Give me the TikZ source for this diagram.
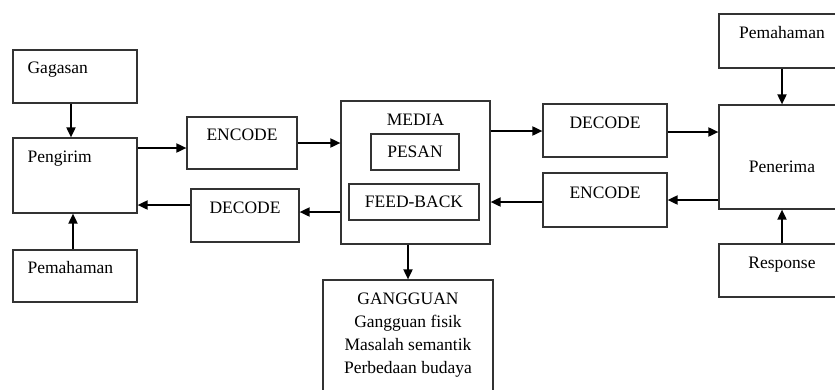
\documentclass[tikz,border=0pt]{standalone}
\usepackage{fontspec}
\setmainfont{Liberation Serif}
\usetikzlibrary{arrows.meta, positioning, calc}

\begin{document}
\begin{tikzpicture}[x=1pt, y=-1pt, font=\fontsize{17.5}{23}\selectfont,
  box/.style={draw=black!80, line width=1.2pt, inner sep=0pt},
  txt/.style={inner sep=0pt, anchor=base},
  arr/.style={-{Triangle[length=10pt, width=9pt]}, line width=1.8pt}]
  \useasboundingbox (0,0) rectangle (835,389);
  \clip (0,0) rectangle (835,389);

  % sender side
  \node (gagasan) [box, minimum width=124pt, minimum height=53pt] at (75,76.5) {};
  \node (gagasanText) [txt, anchor=base west] at ($(gagasan.north west)+(15,24)$) {Gagasan};
  \node (pengirim) [box, minimum width=124pt, minimum height=75pt] at (75,175.5) {};
  \node (pengirimText) [txt, anchor=base west] at ($(pengirim.north west)+(15,25)$) {Pengirim};
  \node (pemL) [box, minimum width=124pt, minimum height=52pt] at (75,276) {};
  \node (pemLText) [txt, anchor=base west] at ($(pemL.north west)+(15,24)$) {Pemahaman};

  \node (encL) [box, minimum width=110pt, minimum height=52pt] at (242,143) {};
  \node (encLText) [txt] at ($(encL.north)+(0,24)$) {ENCODE};
  \node (decL) [box, minimum width=108pt, minimum height=53pt] at (245,215.5) {};
  \node (decLText) [txt] at ($(decL.north)+(0,25)$) {DECODE};

  % channel
  \node (media) [box, minimum width=149pt, minimum height=143pt] at (415.5,172.5) {};
  \node (mediaText) [txt] at ($(media.north)+(0,25)$) {MEDIA};
  \node (pesan) [box, minimum width=88pt, minimum height=36pt] at (415,152) {PESAN};
  \node (feedback) [box, minimum width=130pt, minimum height=36pt] at (414,202) {FEED-BACK};
  \node (gangguan) [box, minimum width=170pt, minimum height=118pt] at (408,339) {};
  \node (gangguanText) [txt, align=center] at ($(gangguan.north)+(0,94)$)
    {GANGGUAN\\Gangguan fisik\\Masalah semantik\\Perbedaan budaya};

  % receiver side
  \node (decR) [box, minimum width=124pt, minimum height=53pt] at (605,130.5) {};
  \node (decRText) [txt] at ($(decR.north)+(0,25)$) {DECODE};
  \node (encR) [box, minimum width=124pt, minimum height=54pt] at (605,200) {};
  \node (encRText) [txt] at ($(encR.north)+(0,26)$) {ENCODE};

  \node (pemR) [box, minimum width=126pt, minimum height=54pt] at (782,41) {};
  \node (pemRText) [txt] at ($(pemR.north)+(0,25)$) {Pemahaman};
  \node (penerima) [box, minimum width=126pt, minimum height=104pt] at (782,157) {};
  \node (penerimaText) [txt] at ($(penerima.north)+(0,68)$) {Penerima};
  \node (response) [box, minimum width=126pt, minimum height=53pt] at (782,270.5) {};
  \node (responseText) [txt] at ($(response.north)+(0,25)$) {Response};

  % connectors
  \draw[arr] ([xshift=-4pt]gagasan.south) -- ([xshift=-4pt]pengirim.north);
  \draw[arr] ([xshift=-2pt]pemL.north) -- ([xshift=-2pt]pengirim.south);
  \draw[arr] ($(encL.west -| pengirim.east)+(0,5)$) -- ($(encL.west)+(0,5)$);
  \draw[arr] (encL.east) -- (encL.east -| media.west);
  \draw[arr] ($(decL.east -| media.west)+(0,-3.5)$) -- ($(decL.east)+(0,-3.5)$);
  \draw[arr] ($(decL.west)+(0,-10.5)$) -- ($(decL.west -| pengirim.east)+(0,-10.5)$);
  \draw[arr] ($(decR.west -| media.east)+(0,0.5)$) -- ($(decR.west)+(0,0.5)$);
  \draw[arr] ($(decR.east)+(0,1.5)$) -- ($(decR.east -| penerima.west)+(0,1.5)$);
  \draw[arr] (encR.east -| penerima.west) -- (encR.east);
  \draw[arr] ($(encR.west)+(0,2)$) -- ($(encR.west -| media.east)+(0,2)$);
  \draw[arr] (pemR.south) -- (penerima.north);
  \draw[arr] (response.north) -- (penerima.south);
  \draw[arr] (gangguan.north |- media.south) -- (gangguan.north);
\end{tikzpicture}
\end{document}
